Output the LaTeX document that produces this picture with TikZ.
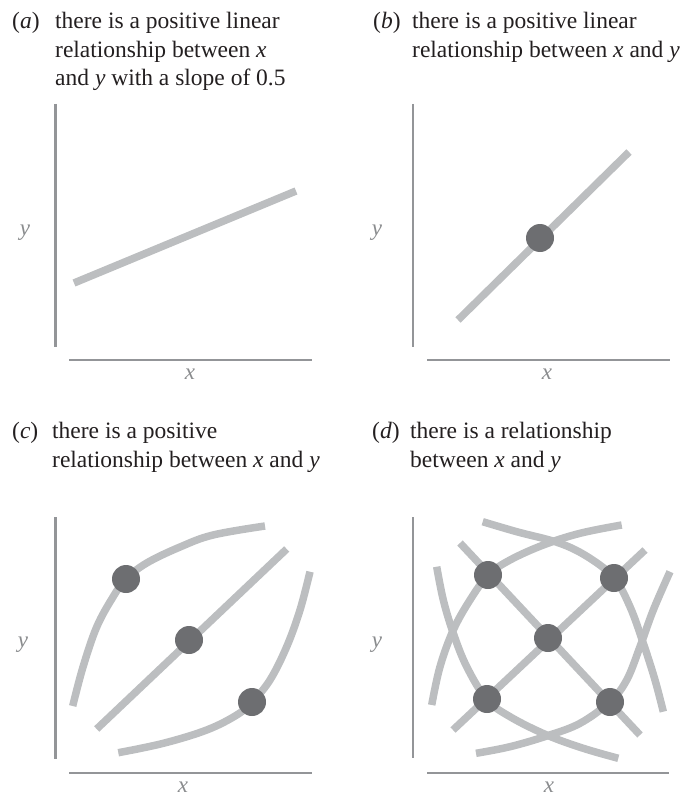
\documentclass[tikz,border=0pt]{standalone}
\usepackage{fontspec}
\setmainfont{LiberationSerif}[Extension=.ttf, UprightFont=*-Regular, ItalicFont=*-Italic, BoldFont=*-Bold]
\definecolor{axisgray}{HTML}{939598}
\definecolor{curvegray}{HTML}{BCBEC0}
\definecolor{dotgray}{HTML}{6D6E71}
\definecolor{labelgray}{HTML}{8A8C8E}
\definecolor{textblack}{HTML}{231F20}
\begin{document}
\begin{tikzpicture}[x=1pt,y=-1pt,
  axis/.style={draw=axisgray, line width=2.6pt},
  curve/.style={draw=curvegray, line width=7.5pt},
  dot/.style={circle, fill=dotgray, minimum size=28pt, inner sep=0pt},
  axlabel/.style={font=\fontsize{23}{23}\selectfont\itshape, text=labelgray, inner sep=0pt},
  captxt/.style={font=\fontsize{23.5}{28.7}\selectfont, text=textblack, inner sep=0pt, anchor=base west}]
\useasboundingbox (0,0) rectangle (687,797);

% ---------- captions ----------
\node[captxt] (atag) at (12,29) {(\textit{a})};
\node[captxt] (al1) at (55,29) {there is a positive linear};
\node[captxt] (al2) at (55,57.5) {relationship between \textit{x}};
\node[captxt] (al3) at (55,86) {and \textit{y} with a slope of 0.5};

\node[captxt] (btag) at (373,29) {(\textit{b})};
\node[captxt] (bl1) at (412,29) {there is a positive linear};
\node[captxt] (bl2) at (412,57.5) {relationship between \textit{x} and \textit{y}};

\node[captxt] (ctag) at (12,438) {(\textit{c})};
\node[captxt] (cl1) at (52,438) {there is a positive};
\node[captxt] (cl2) at (52,467) {relationship between \textit{x} and \textit{y}};

\node[captxt] (dtag) at (372,438) {(\textit{d})};
\node[captxt] (dl1) at (410,438) {there is a relationship};
\node[captxt] (dl2) at (410,467) {between \textit{x} and \textit{y}};

% ---------- axes ----------
\coordinate (ayt) at (55.3,104); \coordinate (ayb) at (55.3,347);
\coordinate (axl) at (69,360);   \coordinate (axr) at (312,360);
\coordinate (byt) at (413,104);  \coordinate (byb) at (413,347);
\coordinate (bxl) at (427,360);  \coordinate (bxr) at (670,360);
\coordinate (cyt) at (55.7,517); \coordinate (cyb) at (55.7,759);
\coordinate (cxl) at (69,773);   \coordinate (cxr) at (312,773);
\coordinate (dyt) at (413,517);  \coordinate (dyb) at (413,758);
\coordinate (dxl) at (427,773);  \coordinate (dxr) at (669,773);
\draw[axis] (ayt) -- (ayb); \draw[axis] (axl) -- (axr);
\draw[axis] (byt) -- (byb); \draw[axis] (bxl) -- (bxr);
\draw[axis] (cyt) -- (cyb); \draw[axis] (cxl) -- (cxr);
\draw[axis] (dyt) -- (dyb); \draw[axis] (dxl) -- (dxr);

\node[axlabel] (ax) at (190,374) {x};
\node[axlabel] (ay) at (25,233) {y};
\node[axlabel] (bx) at (547,374) {x};
\node[axlabel] (by) at (377,233) {y};
\node[axlabel] (cx) at (183,787) {x};
\node[axlabel] (cy) at (23,645) {y};
\node[axlabel] (dx) at (549,787) {x};
\node[axlabel] (dy) at (377,645) {y};

% ---------- panel a ----------
\coordinate (as) at (74,283); \coordinate (ae) at (296,191);
\draw[curve] (as) -- (ae);

% ---------- panel b ----------
\coordinate (bs) at (458,320); \coordinate (be) at (629,152);
\draw[curve] (bs) -- (be);
\node[dot] (bdot) at (540,238) {};

% ---------- panel c ----------
\coordinate (cms) at (96.7,729); \coordinate (cme) at (286.7,549);
\draw[curve] plot[smooth, tension=0.6] coordinates {(72.7,706) (83,667) (96.7,627) (113,597) (126,579) (146.7,563) (180,547) (213,535) (265,526)};
\draw[curve] plot[smooth, tension=0.6] coordinates {(118.3,752.7) (163.3,743.3) (206.7,730) (236.7,715) (252.3,701.7) (270,680) (286.7,646.7) (300,610) (310,571.7)};
\draw[curve] (cms) -- (cme);
\node[dot] (cdot1) at (126,579) {};
\node[dot] (cdot2) at (189,640) {};
\node[dot] (cdot3) at (252,702) {};

% ---------- panel d ----------
\coordinate (d1s) at (453,730); \coordinate (d1e) at (645,550);
\coordinate (d2s) at (460,543); \coordinate (d2e) at (640,735);
\draw[curve] plot[smooth, tension=0.6] coordinates {(431.7,705) (440,666.7) (453.3,630) (470,600) (488.3,575) (510,560) (543.3,545) (580,533.3) (621.7,525)};
\draw[curve] plot[smooth, tension=0.6] coordinates {(482.7,521.7) (516.7,531.7) (560,543.3) (590,558.3) (614.3,578.3) (630,606.7) (643.3,643.3) (655,680) (663.3,711.7)};
\draw[curve] plot[smooth, tension=0.6] coordinates {(436.7,566.7) (443.3,600) (453.3,633.3) (466.7,666.7) (486.7,699.3) (510,716.7) (546.7,735) (583.3,748.3) (618.3,758.3)};
\draw[curve] plot[smooth, tension=0.6] coordinates {(476,753.3) (510,746.7) (546.7,736) (580,723.3) (610,701.7) (626.7,680) (640,646.7) (653.3,610) (670,571.7)};
\draw[curve] (d1s) -- (d1e);
\draw[curve] (d2s) -- (d2e);
\node[dot] (ddot1) at (488,575) {};
\node[dot] (ddot2) at (614,578) {};
\node[dot] (ddot3) at (548,638) {};
\node[dot] (ddot4) at (487,699) {};
\node[dot] (ddot5) at (610,702) {};
\end{tikzpicture}
\end{document}
